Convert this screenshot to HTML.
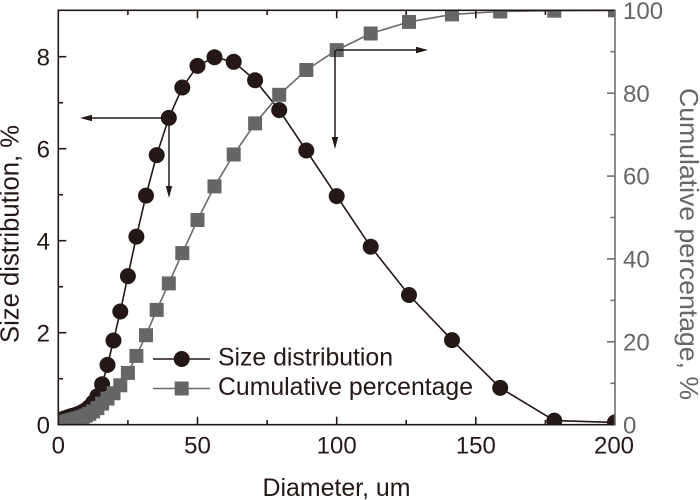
<!DOCTYPE html>
<html><head><meta charset="utf-8"><style>
html,body{margin:0;padding:0;background:#fff;}
svg{display:block;}
text{font-family:"Liberation Sans",Arial,sans-serif;}
</style></head><body>
<svg width="700" height="500" viewBox="0 0 700 500" xmlns="http://www.w3.org/2000/svg">
<defs>
<clipPath id="pa"><rect x="58.3" y="10.3" width="556.7" height="414.4"/></clipPath>
</defs>
<rect width="700" height="500" fill="#fff"/>
<g clip-path="url(#pa)">
<!-- size distribution line -->
<polyline fill="none" stroke="#231815" stroke-width="1.6" points="59.7,421.5 60.0,421.0 60.5,420.6 61.0,420.1 61.75,419.6 62.6,419.2 63.8,418.7 65.2,418.3 67.0,417.8 68.1,417.3 69.3,416.9 70.6,416.4 72.1,416.0 73.8,415.5 75.7,415.0 77.8,414.1 80.2,413.2 82.9,411.8 85.9,410.0 89.3,407.2 93.1,402.6 97.4,396.2 102.1,384.2 107.5,364.9 113.5,340.5 120.3,311.5 127.9,276.1 136.4,236.6 146.0,195.6 156.7,155.1 168.8,117.9 182.3,87.5 197.5,65.9 214.5,57.2 233.7,61.8 255.1,80.2 279.2,110.1 306.3,150.5 336.7,196.1 370.7,246.7 409.0,295.0 452.0,340.1 500.2,387.9 554.3,420.6 615.0,422.4"/>
<g fill="#231815">
<circle cx="59.7" cy="421.5" r="8"/><circle cx="60.0" cy="421.0" r="8"/><circle cx="60.5" cy="420.6" r="8"/><circle cx="61.0" cy="420.1" r="8"/><circle cx="61.75" cy="419.6" r="8"/><circle cx="62.6" cy="419.2" r="8"/><circle cx="63.8" cy="418.7" r="8"/><circle cx="65.2" cy="418.3" r="8"/><circle cx="67.0" cy="417.8" r="8"/><circle cx="68.1" cy="417.3" r="8"/><circle cx="69.3" cy="416.9" r="8"/><circle cx="70.6" cy="416.4" r="8"/><circle cx="72.1" cy="416.0" r="8"/><circle cx="73.8" cy="415.5" r="8"/><circle cx="75.7" cy="415.0" r="8"/><circle cx="77.8" cy="414.1" r="8"/><circle cx="80.2" cy="413.2" r="8"/><circle cx="82.9" cy="411.8" r="8"/><circle cx="85.9" cy="410.0" r="8"/><circle cx="89.3" cy="407.2" r="8"/><circle cx="93.1" cy="402.6" r="8"/><circle cx="97.4" cy="396.2" r="8"/><circle cx="102.1" cy="384.2" r="8"/><circle cx="107.5" cy="364.9" r="8"/><circle cx="113.5" cy="340.5" r="8"/><circle cx="120.3" cy="311.5" r="8"/><circle cx="127.9" cy="276.1" r="8"/><circle cx="136.4" cy="236.6" r="8"/><circle cx="146.0" cy="195.6" r="8"/><circle cx="156.7" cy="155.1" r="8"/><circle cx="168.8" cy="117.9" r="8"/><circle cx="182.3" cy="87.5" r="8"/><circle cx="197.5" cy="65.9" r="8"/><circle cx="214.5" cy="57.2" r="8"/><circle cx="233.7" cy="61.8" r="8"/><circle cx="255.1" cy="80.2" r="8"/><circle cx="279.2" cy="110.1" r="8"/><circle cx="306.3" cy="150.5" r="8"/><circle cx="336.7" cy="196.1" r="8"/><circle cx="370.7" cy="246.7" r="8"/><circle cx="409.0" cy="295.0" r="8"/><circle cx="452.0" cy="340.1" r="8"/><circle cx="500.2" cy="387.9" r="8"/><circle cx="554.3" cy="420.6" r="8"/><circle cx="615.0" cy="422.4" r="8"/>
</g>
<!-- cumulative line -->
<polyline fill="none" stroke="#6a6a6a" stroke-width="1.6" points="59.7,424.3 60.0,424.1 60.5,423.9 61.0,423.7 61.75,423.4 62.6,423.0 63.8,422.6 65.2,422.2 67.0,421.7 68.1,421.4 69.3,421.0 70.6,420.6 72.1,420.1 73.8,419.7 75.7,419.1 77.8,418.5 80.2,417.7 82.9,416.8 85.9,415.6 89.3,413.9 93.1,411.4 97.4,408.1 102.1,403.6 107.5,398.6 113.5,393.2 120.3,385.3 127.9,372.9 136.4,355.9 146.0,335.2 156.7,309.9 168.8,283.4 182.3,253.1 197.5,220.0 214.5,186.4 233.7,154.5 255.1,123.4 279.2,94.8 306.3,70.0 336.7,50.1 370.7,33.5 409.0,21.9 452.0,14.4 500.2,11.5 554.3,10.7 615.0,10.3"/>
<g fill="#666">
<rect x="52.7" y="417.3" width="14" height="14"/><rect x="53.0" y="417.1" width="14" height="14"/><rect x="53.5" y="416.9" width="14" height="14"/><rect x="54.0" y="416.7" width="14" height="14"/><rect x="54.75" y="416.4" width="14" height="14"/><rect x="55.6" y="416.0" width="14" height="14"/><rect x="56.8" y="415.6" width="14" height="14"/><rect x="58.2" y="415.2" width="14" height="14"/><rect x="60.0" y="414.7" width="14" height="14"/><rect x="61.1" y="414.4" width="14" height="14"/><rect x="62.3" y="414.0" width="14" height="14"/><rect x="63.6" y="413.6" width="14" height="14"/><rect x="65.1" y="413.1" width="14" height="14"/><rect x="66.8" y="412.7" width="14" height="14"/><rect x="68.7" y="412.1" width="14" height="14"/><rect x="70.8" y="411.5" width="14" height="14"/><rect x="73.2" y="410.7" width="14" height="14"/><rect x="75.9" y="409.8" width="14" height="14"/><rect x="78.9" y="408.6" width="14" height="14"/><rect x="82.3" y="406.9" width="14" height="14"/><rect x="86.1" y="404.4" width="14" height="14"/><rect x="90.4" y="401.1" width="14" height="14"/><rect x="95.1" y="396.6" width="14" height="14"/><rect x="100.5" y="391.6" width="14" height="14"/><rect x="106.5" y="386.2" width="14" height="14"/><rect x="113.3" y="378.3" width="14" height="14"/><rect x="120.9" y="365.9" width="14" height="14"/><rect x="129.4" y="348.9" width="14" height="14"/><rect x="139.0" y="328.2" width="14" height="14"/><rect x="149.7" y="302.9" width="14" height="14"/><rect x="161.8" y="276.4" width="14" height="14"/><rect x="175.3" y="246.1" width="14" height="14"/><rect x="190.5" y="213.0" width="14" height="14"/><rect x="207.5" y="179.4" width="14" height="14"/><rect x="226.7" y="147.5" width="14" height="14"/><rect x="248.1" y="116.4" width="14" height="14"/><rect x="272.2" y="87.8" width="14" height="14"/><rect x="299.3" y="63.0" width="14" height="14"/><rect x="329.7" y="43.1" width="14" height="14"/><rect x="363.7" y="26.5" width="14" height="14"/><rect x="402.0" y="14.9" width="14" height="14"/><rect x="445.0" y="7.4" width="14" height="14"/><rect x="493.2" y="4.5" width="14" height="14"/><rect x="547.3" y="3.7" width="14" height="14"/><rect x="608.0" y="3.3" width="14" height="14"/>
</g>
</g>
<!-- arrows -->
<g stroke="#231815" stroke-width="1.5" fill="none">
<line x1="169" y1="118" x2="90" y2="118"/>
<line x1="169" y1="118" x2="169" y2="188"/>
<line x1="336" y1="50" x2="418" y2="50"/>
<line x1="335" y1="50" x2="335" y2="139"/>
</g>
<g fill="#231815">
<polygon points="80,118 92,114.8 92,121.2"/>
<polygon points="169,198 165.8,186 172.2,186"/>
<polygon points="428,50 416,46.8 416,53.2"/>
<polygon points="335,149 331.8,137 338.2,137"/>
</g>
<!-- axes -->
<g stroke="#231815" stroke-width="1.6" fill="none">
<line x1="58.3" y1="9.5" x2="58.3" y2="425.5"/>
<line x1="57.5" y1="424.7" x2="615" y2="424.7"/>
<line x1="57.5" y1="10.3" x2="615" y2="10.3"/>
<!-- bottom ticks -->
<line x1="58.3" y1="424.7" x2="58.3" y2="416.7"/>
<line x1="127.9" y1="424.7" x2="127.9" y2="420"/>
<line x1="197.5" y1="424.7" x2="197.5" y2="416.7"/>
<line x1="267.1" y1="424.7" x2="267.1" y2="420"/>
<line x1="336.7" y1="424.7" x2="336.7" y2="416.7"/>
<line x1="406.2" y1="424.7" x2="406.2" y2="420"/>
<line x1="475.8" y1="424.7" x2="475.8" y2="416.7"/>
<line x1="545.4" y1="424.7" x2="545.4" y2="420"/>
<!-- top ticks -->
<line x1="127.9" y1="10.3" x2="127.9" y2="15"/>
<line x1="197.5" y1="10.3" x2="197.5" y2="18.3"/>
<line x1="267.1" y1="10.3" x2="267.1" y2="15"/>
<line x1="336.7" y1="10.3" x2="336.7" y2="18.3"/>
<line x1="406.2" y1="10.3" x2="406.2" y2="15"/>
<line x1="475.8" y1="10.3" x2="475.8" y2="18.3"/>
<line x1="545.4" y1="10.3" x2="545.4" y2="15"/>
<!-- left ticks -->
<line x1="58.3" y1="378.7" x2="63" y2="378.7"/>
<line x1="58.3" y1="332.7" x2="66.3" y2="332.7"/>
<line x1="58.3" y1="286.7" x2="63" y2="286.7"/>
<line x1="58.3" y1="240.7" x2="66.3" y2="240.7"/>
<line x1="58.3" y1="194.7" x2="63" y2="194.7"/>
<line x1="58.3" y1="148.7" x2="66.3" y2="148.7"/>
<line x1="58.3" y1="102.7" x2="63" y2="102.7"/>
<line x1="58.3" y1="56.7" x2="66.3" y2="56.7"/>
</g>
<g stroke="#6e6e6e" stroke-width="1.6" fill="none">
<line x1="615" y1="9.5" x2="615" y2="425.5"/>
<line x1="615" y1="383.3" x2="610.5" y2="383.3"/>
<line x1="615" y1="341.8" x2="607" y2="341.8"/>
<line x1="615" y1="300.4" x2="610.5" y2="300.4"/>
<line x1="615" y1="258.9" x2="607" y2="258.9"/>
<line x1="615" y1="217.5" x2="610.5" y2="217.5"/>
<line x1="615" y1="176.1" x2="607" y2="176.1"/>
<line x1="615" y1="134.6" x2="610.5" y2="134.6"/>
<line x1="615" y1="93.2" x2="607" y2="93.2"/>
<line x1="615" y1="51.7" x2="610.5" y2="51.7"/>
</g>
<!-- tick labels -->
<g fill="#231815" font-size="24" text-anchor="end">
<text x="50" y="433.3">0</text>
<text x="50" y="341.3">2</text>
<text x="50" y="249.3">4</text>
<text x="50" y="157.3">6</text>
<text x="50" y="65.3">8</text>
</g>
<g fill="#231815" font-size="24" text-anchor="middle">
<text x="58.3" y="453.5">0</text>
<text x="197.5" y="453.5">50</text>
<text x="336.7" y="453.5">100</text>
<text x="475.8" y="453.5">150</text>
<text x="614" y="453.5">200</text>
</g>
<g fill="#666" font-size="24" text-anchor="start">
<text x="623" y="433.3">0</text>
<text x="623" y="350.4">20</text>
<text x="623" y="267.5">40</text>
<text x="623" y="184.7">60</text>
<text x="623" y="101.8">80</text>
<text x="623" y="18.9">100</text>
</g>
<!-- axis titles -->
<text x="336.5" y="496" font-size="25" fill="#231815" text-anchor="middle" textLength="148" lengthAdjust="spacingAndGlyphs">Diameter, um</text>
<text transform="translate(18.5,234) rotate(-90)" x="0" y="0" font-size="25.5" fill="#231815" text-anchor="middle" textLength="218" lengthAdjust="spacingAndGlyphs">Size distribution, %</text>
<text transform="translate(680,244) rotate(90)" x="0" y="0" font-size="26" fill="#666" text-anchor="middle" textLength="312" lengthAdjust="spacingAndGlyphs">Cumulative percentage, %</text>
<!-- legend -->
<line x1="153" y1="359" x2="210" y2="359" stroke="#231815" stroke-width="1.6"/>
<circle cx="181.7" cy="359" r="8" fill="#231815"/>
<line x1="153" y1="388.5" x2="210" y2="388.5" stroke="#6a6a6a" stroke-width="1.6"/>
<rect x="174.7" y="381.5" width="14" height="14" fill="#666"/>
<text x="218" y="365.5" font-size="25" fill="#231815" textLength="175" lengthAdjust="spacingAndGlyphs">Size distribution</text>
<text x="218" y="395" font-size="25" fill="#231815" textLength="255" lengthAdjust="spacingAndGlyphs">Cumulative percentage</text>
</svg>
</body></html>
